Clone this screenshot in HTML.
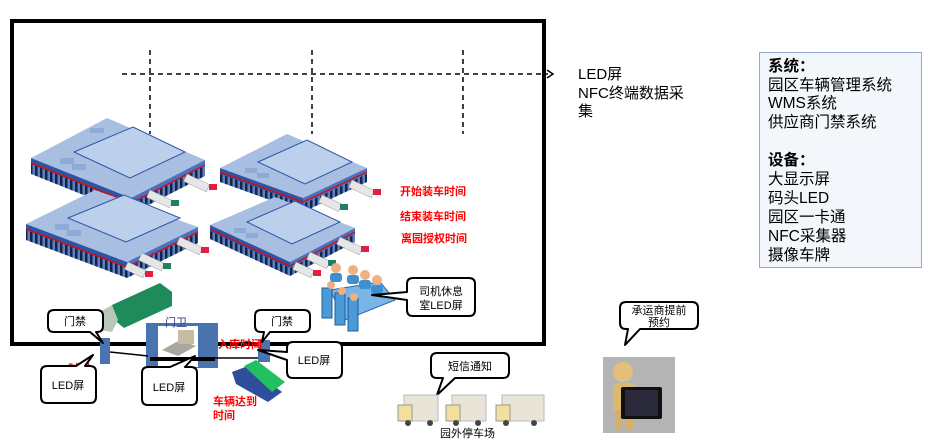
<!DOCTYPE html>
<html><head><meta charset="utf-8"><style>
body{margin:0;background:#fff;width:932px;height:442px;overflow:hidden;}
svg{display:block;font-family:"Liberation Sans","Noto Sans CJK SC",sans-serif;}
</style></head><body>
<svg width="932" height="442" viewBox="0 0 932 442" xmlns="http://www.w3.org/2000/svg">
<defs>
<pattern id="teeth" width="5" height="12" patternUnits="userSpaceOnUse">
<rect width="5" height="12" fill="#5b82c8"/><rect width="2.5" height="12" fill="#142544"/>
</pattern>
</defs>
<rect x="12" y="21" width="532" height="323" fill="none" stroke="#000" stroke-width="4"/>
<g stroke="#000" stroke-width="1.5" stroke-dasharray="5,4" fill="none">
<line x1="122" y1="74" x2="548" y2="74"/>
<line x1="150" y1="50" x2="150" y2="134"/>
<line x1="312" y1="50" x2="312" y2="134"/>
<line x1="463" y1="50" x2="463" y2="134"/>
</g>
<path d="M547,70 L553,74 L547,78" stroke="#000" stroke-width="1.5" fill="none"/>
<text x="578" y="79" font-size="15">LED屏</text>
<text x="578" y="98" font-size="15">NFC终端数据采</text>
<text x="578" y="116" font-size="15">集</text>

<rect x="759.5" y="52.5" width="162" height="215" fill="#f3f6fa" stroke="#8fa9d4" stroke-width="1"/>
<g font-size="15.5" fill="#000">
<text x="768" y="71" font-weight="bold">系统：</text>
<text x="768" y="90">园区车辆管理系统</text>
<text x="768" y="108">WMS系统</text>
<text x="768" y="127">供应商门禁系统</text>
<text x="768" y="165" font-weight="bold">设备：</text>
<text x="768" y="184">大显示屏</text>
<text x="768" y="203">码头LED</text>
<text x="768" y="222">园区一卡通</text>
<text x="768" y="241">NFC采集器</text>
<text x="768" y="260">摄像车牌</text>
</g>

<g>
<polygon points="31,158 131,198 131,214 31,174" fill="url(#teeth)"/>
<polygon points="131,198 205,160 205,176 131,214" fill="url(#teeth)"/>
<polygon points="31,158 131,198 131,204 31,164" fill="#2c55a8"/>
<polygon points="131,198 205,160 205,166 131,204" fill="#4a72c0"/>
<line x1="31" y1="163" x2="131" y2="203" stroke="#d01010" stroke-width="1.5"/>
<line x1="131" y1="203" x2="205" y2="165" stroke="#d01010" stroke-width="1.5"/>
<polygon points="31,158 107,118 205,160 131,198" fill="#a8bfe2"/>
<polygon points="74,152 133,127 185,152 130,178" fill="#bccfeb" stroke="#2c55a8" stroke-width="1"/>
<rect x="60" y="158" width="14" height="6" fill="#8eaad6"/><rect x="72" y="164" width="14" height="6" fill="#8eaad6"/><rect x="90" y="128" width="14" height="5" fill="#8eaad6"/>
</g>
<g>
<polygon points="220,168 303,198 303,212 220,182" fill="url(#teeth)"/>
<polygon points="303,198 367,168 367,182 303,212" fill="url(#teeth)"/>
<polygon points="220,168 303,198 303,204 220,174" fill="#2c55a8"/>
<polygon points="303,198 367,168 367,174 303,204" fill="#4a72c0"/>
<line x1="220" y1="172" x2="303" y2="202" stroke="#d01010" stroke-width="1.5"/>
<line x1="303" y1="202" x2="367" y2="172" stroke="#d01010" stroke-width="1.5"/>
<polygon points="220,168 287,134 367,168 303,198" fill="#a8bfe2"/>
<polygon points="258,162 307,140 352,162 305,184" fill="#bccfeb" stroke="#2c55a8" stroke-width="1"/>
<rect x="245" y="168" width="12" height="5" fill="#8eaad6"/><rect x="257" y="173" width="12" height="5" fill="#8eaad6"/>
</g>
<g>
<polygon points="26,224 127,262 127,278 26,240" fill="url(#teeth)"/>
<polygon points="127,262 198,227 198,243 127,278" fill="url(#teeth)"/>
<polygon points="26,224 127,262 127,268 26,230" fill="#2c55a8"/>
<polygon points="127,262 198,227 198,233 127,268" fill="#4a72c0"/>
<line x1="26" y1="229" x2="127" y2="267" stroke="#d01010" stroke-width="1.5"/>
<line x1="127" y1="267" x2="198" y2="232" stroke="#d01010" stroke-width="1.5"/>
<polygon points="26,224 95,190 198,227 127,262" fill="#a8bfe2"/>
<polygon points="68,218 124,195 180,218 126,242" fill="#bccfeb" stroke="#2c55a8" stroke-width="1"/>
<rect x="55" y="224" width="14" height="6" fill="#8eaad6"/><rect x="67" y="230" width="14" height="6" fill="#8eaad6"/>
</g>
<g>
<polygon points="210,225 290,262 290,276 210,239" fill="url(#teeth)"/>
<polygon points="290,262 355,228 355,242 290,276" fill="url(#teeth)"/>
<polygon points="210,225 290,262 290,268 210,231" fill="#2c55a8"/>
<polygon points="290,262 355,228 355,234 290,268" fill="#4a72c0"/>
<line x1="210" y1="229" x2="290" y2="266" stroke="#d01010" stroke-width="1.5"/>
<line x1="290" y1="266" x2="355" y2="232" stroke="#d01010" stroke-width="1.5"/>
<polygon points="210,225 275,197 355,228 290,262" fill="#a8bfe2"/>
<polygon points="247,222 295,201 340,222 292,244" fill="#bccfeb" stroke="#2c55a8" stroke-width="1"/>
<rect x="234" y="228" width="12" height="5" fill="#8eaad6"/><rect x="246" y="233" width="12" height="5" fill="#8eaad6"/>
</g>
<g stroke="#999" stroke-width="0.5">
<rect x="187" y="174" width="25" height="8" fill="#e6e6e6" transform="rotate(25 187 174)"/><rect x="209" y="184" width="8" height="6" fill="#e02040" stroke="none"/>
<rect x="150" y="190" width="25" height="8" fill="#e6e6e6" transform="rotate(25 150 190)"/><rect x="171" y="200" width="8" height="6" fill="#208060" stroke="none"/>
<rect x="352" y="180" width="25" height="8" fill="#e6e6e6" transform="rotate(25 352 180)"/><rect x="373" y="189" width="8" height="6" fill="#e02040" stroke="none"/>
<rect x="322" y="195" width="22" height="8" fill="#e6e6e6" transform="rotate(25 322 195)"/><rect x="340" y="204" width="8" height="6" fill="#208060" stroke="none"/>
<rect x="180" y="237" width="25" height="8" fill="#e6e6e6" transform="rotate(25 180 237)"/><rect x="201" y="247" width="8" height="6" fill="#e02040" stroke="none"/>
<rect x="142" y="253" width="25" height="8" fill="#e6e6e6" transform="rotate(25 142 253)"/><rect x="163" y="263" width="8" height="6" fill="#208060" stroke="none"/>
<rect x="128" y="262" width="20" height="8" fill="#e6e6e6" transform="rotate(25 128 262)"/><rect x="145" y="271" width="8" height="6" fill="#e02040" stroke="none"/>
<rect x="340" y="237" width="25" height="8" fill="#e6e6e6" transform="rotate(25 340 237)"/><rect x="361" y="246" width="8" height="6" fill="#e02040" stroke="none"/>
<rect x="310" y="252" width="22" height="8" fill="#e6e6e6" transform="rotate(25 310 252)"/><rect x="328" y="260" width="8" height="6" fill="#208060" stroke="none"/>
<rect x="296" y="262" width="20" height="8" fill="#e6e6e6" transform="rotate(25 296 262)"/><rect x="313" y="270" width="8" height="6" fill="#e02040" stroke="none"/>
</g>
<g font-size="11" font-weight="bold" fill="#ff0000">
<text x="400" y="195">开始装车时间</text>
<text x="400" y="220">结束装车时间</text>
<text x="401" y="242">离园授权时间</text>
</g>
<polygon points="330,290 380,282 395,300 345,320" fill="#7ab5e8" stroke="#2a6aa8"/>
<g fill="#4a9ad8" stroke="#1f5f9a">
<rect x="322" y="288" width="10" height="30"/><rect x="335" y="293" width="10" height="32"/><rect x="348" y="298" width="10" height="33"/>
</g>
<g fill="#f0b080">
<circle cx="336" cy="268" r="5"/><circle cx="353" cy="270" r="5"/><circle cx="365" cy="275" r="5"/><circle cx="377" cy="280" r="5"/><circle cx="331" cy="285" r="4"/><circle cx="342" cy="291" r="4"/><circle cx="354" cy="297" r="4"/>
</g>
<g fill="#3e8fd0"><rect x="330" y="273" width="12" height="9" rx="3"/><rect x="347" y="275" width="12" height="9" rx="3"/><rect x="359" y="280" width="12" height="9" rx="3"/><rect x="371" y="285" width="12" height="9" rx="3"/></g>

<polygon points="112,305 160,283 172,292 172,306 124,328 112,318" fill="#1f8a5a"/>
<polygon points="100,312 112,305 118,320 112,332 100,330" fill="#b8c8b8"/>

<rect x="146" y="323" width="72" height="45" fill="#4a74b0"/>
<rect x="158" y="326" width="40" height="41" fill="#fff"/>
<polygon points="162,350 180,340 196,346 178,356" fill="#a8a8a0"/>
<rect x="178" y="330" width="16" height="14" fill="#c8bca0"/>
<rect x="150" y="357" width="65" height="4" fill="#000"/>
<text x="165" y="326" font-size="11" fill="#3a3a8a">门卫</text>
<rect x="100" y="338" width="10" height="26" fill="#4a74b0"/>
<rect x="258" y="340" width="12" height="22" fill="#4a74b0"/>
<line x1="110" y1="352" x2="148" y2="356" stroke="#000" stroke-width="1.5"/>
<line x1="212" y1="358" x2="258" y2="358" stroke="#000" stroke-width="1.5"/>
<text x="218" y="348" font-size="11" font-weight="bold" fill="#ff0000">入库时间</text>
<text x="68" y="372" font-size="11" font-weight="bold" fill="#ff0000">时间</text>
<polygon points="232,372 248,366 282,392 268,402 236,384" fill="#2e4d9a"/>
<polygon points="244,366 256,360 285,382 272,392" fill="#22c060"/>
<text x="213" y="405" font-size="11" font-weight="bold" fill="#ff0000">车辆达到</text>
<text x="213" y="419" font-size="11" font-weight="bold" fill="#ff0000">时间</text>

<g fill="#fff" stroke="#000" stroke-width="2" stroke-linejoin="round">
<path d="M54,310 H97 Q103,310 103,316 V326 Q103,332 97,332 H96 L103,343 L90,332 H54 Q48,332 48,326 V316 Q48,310 54,310 Z"/>
<path d="M47,366 H76 L93,355 L85,366 H90 Q96,366 96,372 V397 Q96,403 90,403 H47 Q41,403 41,397 V372 Q41,366 47,366 Z"/>
<path d="M148,367 H170 L195,356 L185,367 H191 Q197,367 197,373 V399 Q197,405 191,405 H148 Q142,405 142,399 V373 Q142,367 148,367 Z"/>
<path d="M261,310 H304 Q310,310 310,316 V326 Q310,332 304,332 H270 L262,342 L264,332 H261 Q255,332 255,326 V316 Q255,310 261,310 Z"/>
<path d="M293,342 H336 Q342,342 342,348 V372 Q342,378 336,378 H293 Q287,378 287,372 V360 L258,350 L287,352 V348 Q287,342 293,342 Z"/>
<path d="M413,278 H469 Q475,278 475,284 V310 Q475,316 469,316 H413 Q407,316 407,310 V300 L372,295 L407,292 V284 Q407,278 413,278 Z"/>
<path d="M437,353 H503 Q509,353 509,359 V372 Q509,378 503,378 H455 L437,395 L443,378 H437 Q431,378 431,372 V359 Q431,353 437,353 Z"/>
<path d="M626,302 H692 Q698,302 698,308 V323 Q698,329 692,329 H640 L625,345 L628,329 H626 Q620,329 620,323 V308 Q620,302 626,302 Z"/>
</g>
<g font-size="11" fill="#000" text-anchor="middle">
<text x="75" y="325">门禁</text>
<text x="68" y="389">LED屏</text>
<text x="169" y="391">LED屏</text>
<text x="282" y="325">门禁</text>
<text x="314" y="364">LED屏</text>
<text x="441" y="295">司机休息</text>
<text x="441" y="309">室LED屏</text>
<text x="470" y="370">短信通知</text>
<text x="659" y="314">承运商提前</text>
<text x="659" y="326">预约</text>
</g>

<g>
<rect x="404" y="395" width="34" height="26" fill="#e8e4d8" stroke="#bbb"/>
<rect x="398" y="405" width="14" height="16" fill="#f0e0a0" stroke="#998"/>
<rect x="452" y="395" width="34" height="26" fill="#e8e4d8" stroke="#bbb"/>
<rect x="446" y="405" width="14" height="16" fill="#f0e0a0" stroke="#998"/>
<rect x="502" y="395" width="42" height="26" fill="#e8e4d8" stroke="#bbb"/>
<rect x="496" y="405" width="14" height="16" fill="#f0e0a0" stroke="#998"/>
<g fill="#444"><circle cx="408" cy="423" r="3"/><circle cx="456" cy="423" r="3"/><circle cx="506" cy="423" r="3"/><circle cx="430" cy="423" r="3"/><circle cx="478" cy="423" r="3"/><circle cx="534" cy="423" r="3"/></g>
</g>
<text x="440" y="437" font-size="11" fill="#000">园外停车场</text>

<rect x="603" y="357" width="72" height="76" fill="#b4b4b4"/>
<circle cx="623" cy="372" r="10" fill="#e2c07a"/>
<rect x="613" y="383" width="22" height="30" rx="6" fill="#dcb870"/>
<rect x="615" y="410" width="7" height="20" fill="#d4b068"/><rect x="626" y="410" width="7" height="20" fill="#d4b068"/>
<rect x="621" y="387" width="41" height="32" rx="2" fill="#101010"/>
<rect x="625" y="390" width="33" height="26" fill="#2a2a3a"/>
</svg>
</body></html>
